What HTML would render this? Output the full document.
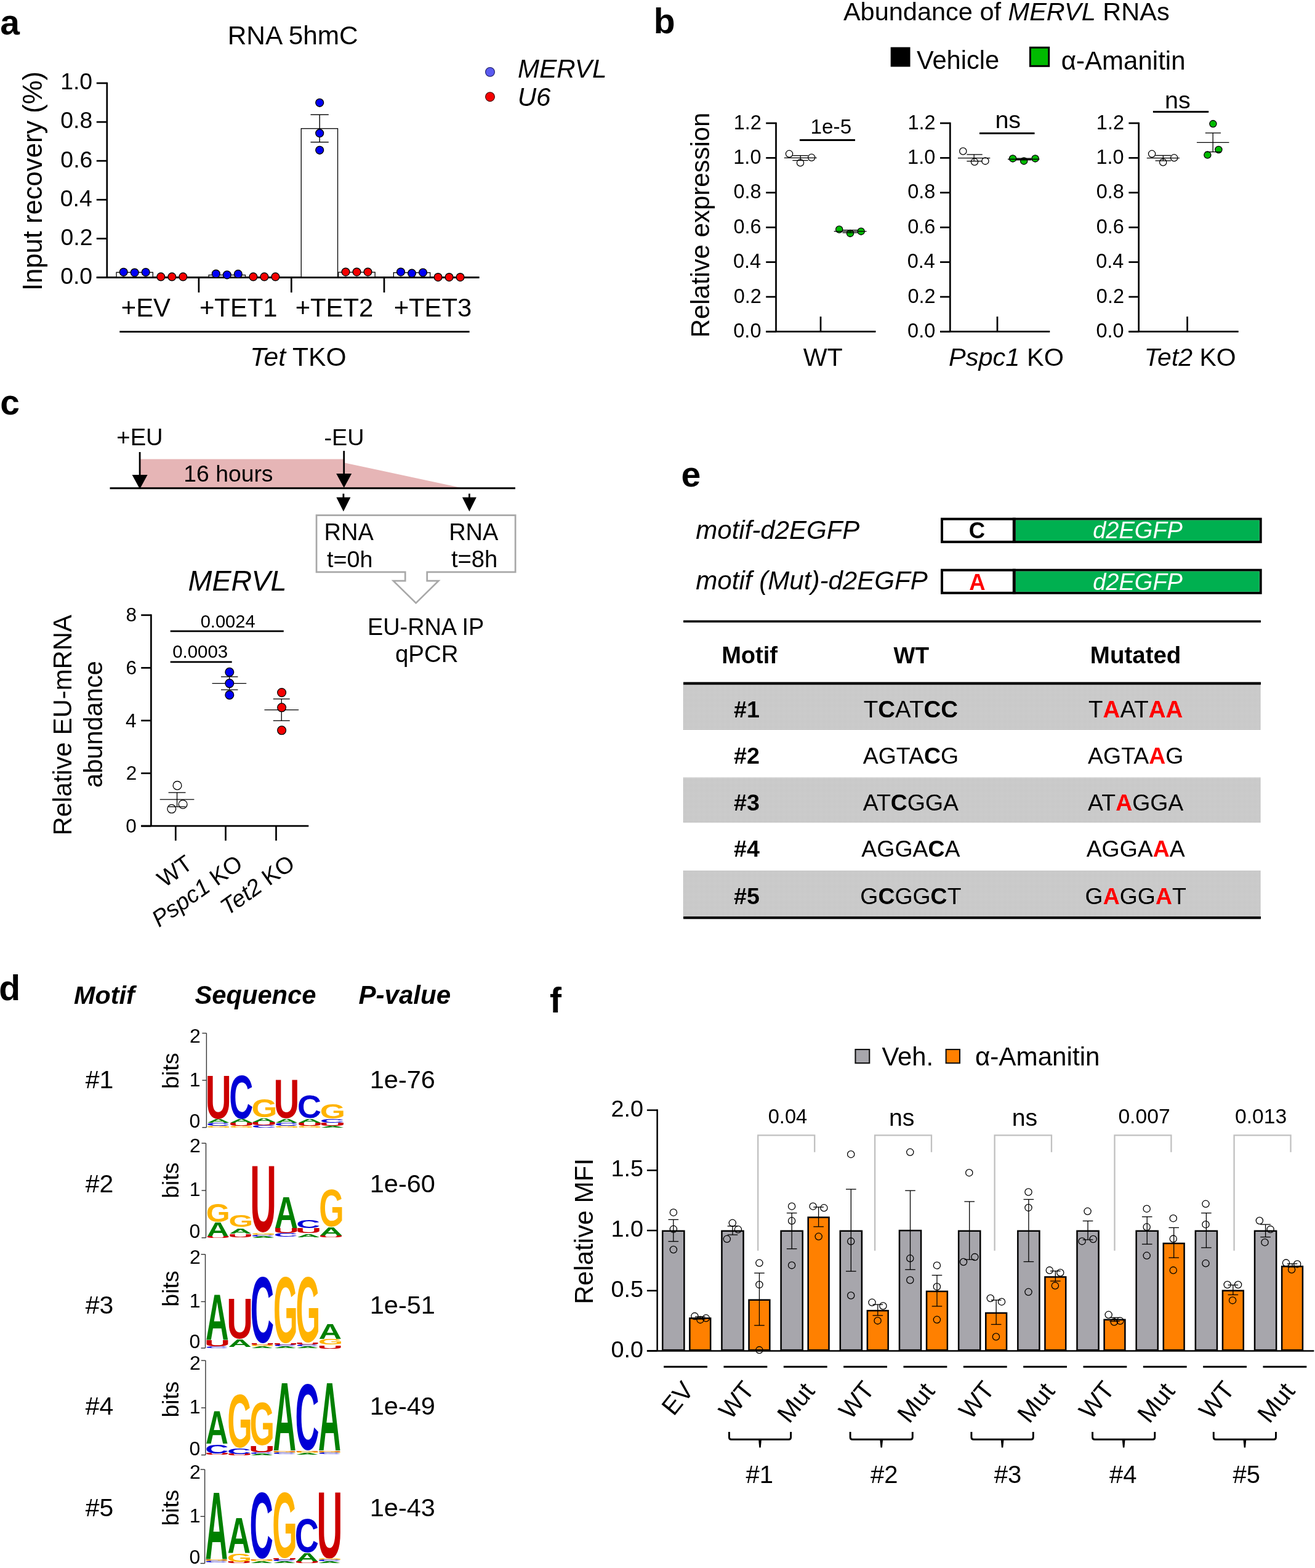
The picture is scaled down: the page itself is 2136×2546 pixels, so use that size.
<!DOCTYPE html>
<html><head><meta charset="utf-8"><title>Figure</title>
<style>html,body{margin:0;padding:0;background:#fff;}svg{display:block;}
text{font-family:"Liberation Sans",Arial,Helvetica,sans-serif;}</style></head>
<body><svg width="2136" height="2546" viewBox="0 0 2136 2546">
<defs><pattern id="dots" x="0" y="0" width="2" height="2" patternUnits="userSpaceOnUse"><rect width="2" height="2" fill="#eaeaea"/><rect width="1" height="1" fill="#6a6a6a"/></pattern></defs>
<rect width="2136" height="2546" fill="#fff"/>
<text x="0.33" y="55.8" font-size="57" font-weight="bold">a</text>
<text x="369.72" y="72" font-size="42.4">RNA 5hmC</text>
<line x1="156.8" y1="450.5" x2="173.8" y2="450.5" stroke="#000" stroke-width="2.7"/>
<text x="98.17" y="460.8" font-size="37.4">0.0</text>
<line x1="156.8" y1="387.4" x2="173.8" y2="387.4" stroke="#000" stroke-width="2.7"/>
<text x="98.59" y="397.7" font-size="37.4">0.2</text>
<line x1="156.8" y1="324.3" x2="173.8" y2="324.3" stroke="#000" stroke-width="2.7"/>
<text x="97.8" y="334.6" font-size="37.4">0.4</text>
<line x1="156.8" y1="261.2" x2="173.8" y2="261.2" stroke="#000" stroke-width="2.7"/>
<text x="98.35" y="271.5" font-size="37.4">0.6</text>
<line x1="156.8" y1="198.1" x2="173.8" y2="198.1" stroke="#000" stroke-width="2.7"/>
<text x="98.33" y="208.4" font-size="37.4">0.8</text>
<line x1="156.8" y1="135" x2="173.8" y2="135" stroke="#000" stroke-width="2.7"/>
<text x="98.17" y="145.3" font-size="37.4">1.0</text>
<line x1="173.8" y1="133.65" x2="173.8" y2="451.85" stroke="#000" stroke-width="2.7"/>
<line x1="156.8" y1="450.5" x2="778.6" y2="450.5" stroke="#000" stroke-width="2.8"/>
<line x1="322.9" y1="450.5" x2="322.9" y2="474.9" stroke="#000" stroke-width="2.7"/>
<line x1="473.3" y1="450.5" x2="473.3" y2="474.9" stroke="#000" stroke-width="2.7"/>
<line x1="624" y1="450.5" x2="624" y2="474.9" stroke="#000" stroke-width="2.7"/>
<rect x="189.05" y="442.25" width="59.3" height="7.6" fill="#fff" stroke="#000" stroke-width="1.3"/>
<rect x="339.15" y="446.55" width="59.3" height="3.3" fill="#fff" stroke="#000" stroke-width="1.3"/>
<rect x="489.25" y="208.75" width="59.3" height="241.1" fill="#fff" stroke="#000" stroke-width="1.3"/>
<rect x="549.85" y="442.05" width="59.3" height="7.8" fill="#fff" stroke="#000" stroke-width="1.3"/>
<rect x="639.35" y="442.65" width="59.3" height="7.2" fill="#fff" stroke="#000" stroke-width="1.3"/>
<line x1="519.2" y1="186.2" x2="519.2" y2="230.8" stroke="#000" stroke-width="1.4"/>
<line x1="504.5" y1="186.2" x2="533.8" y2="186.2" stroke="#000" stroke-width="1.4"/>
<line x1="504.5" y1="230.8" x2="533.8" y2="230.8" stroke="#000" stroke-width="1.4"/>
<circle cx="200.7" cy="441.8" r="6.4" fill="#0000f5" stroke="#000" stroke-width="1.4"/>
<circle cx="218.7" cy="442.6" r="6.4" fill="#0000f5" stroke="#000" stroke-width="1.4"/>
<circle cx="236.7" cy="442" r="6.4" fill="#0000f5" stroke="#000" stroke-width="1.4"/>
<circle cx="261.3" cy="449.4" r="6.4" fill="#f50000" stroke="#000" stroke-width="1.4"/>
<circle cx="279.3" cy="449.4" r="6.4" fill="#f50000" stroke="#000" stroke-width="1.4"/>
<circle cx="297.3" cy="449.4" r="6.4" fill="#f50000" stroke="#000" stroke-width="1.4"/>
<circle cx="350.8" cy="444.6" r="6.4" fill="#0000f5" stroke="#000" stroke-width="1.4"/>
<circle cx="368.8" cy="446.3" r="6.4" fill="#0000f5" stroke="#000" stroke-width="1.4"/>
<circle cx="386.8" cy="444.9" r="6.4" fill="#0000f5" stroke="#000" stroke-width="1.4"/>
<circle cx="411.4" cy="449.4" r="6.4" fill="#f50000" stroke="#000" stroke-width="1.4"/>
<circle cx="429.4" cy="449.4" r="6.4" fill="#f50000" stroke="#000" stroke-width="1.4"/>
<circle cx="447.4" cy="449.4" r="6.4" fill="#f50000" stroke="#000" stroke-width="1.4"/>
<circle cx="519.2" cy="166.8" r="6.4" fill="#0000f5" stroke="#000" stroke-width="1.4"/>
<circle cx="519.2" cy="216.2" r="6.4" fill="#0000f5" stroke="#000" stroke-width="1.4"/>
<circle cx="519.2" cy="243.8" r="6.4" fill="#0000f5" stroke="#000" stroke-width="1.4"/>
<circle cx="561.5" cy="441.6" r="6.4" fill="#f50000" stroke="#000" stroke-width="1.4"/>
<circle cx="579.5" cy="441.6" r="6.4" fill="#f50000" stroke="#000" stroke-width="1.4"/>
<circle cx="597.5" cy="441.6" r="6.4" fill="#f50000" stroke="#000" stroke-width="1.4"/>
<circle cx="651" cy="441.6" r="6.4" fill="#0000f5" stroke="#000" stroke-width="1.4"/>
<circle cx="669" cy="443.7" r="6.4" fill="#0000f5" stroke="#000" stroke-width="1.4"/>
<circle cx="687" cy="442.5" r="6.4" fill="#0000f5" stroke="#000" stroke-width="1.4"/>
<circle cx="711.6" cy="450.1" r="6.4" fill="#f50000" stroke="#000" stroke-width="1.4"/>
<circle cx="729.6" cy="450.1" r="6.4" fill="#f50000" stroke="#000" stroke-width="1.4"/>
<circle cx="747.6" cy="450.1" r="6.4" fill="#f50000" stroke="#000" stroke-width="1.4"/>
<text x="196.76" y="513.5" font-size="41.8">+EV</text>
<text x="323.96" y="513.5" font-size="41.8">+TET1</text>
<text x="479.66" y="513.5" font-size="41.8">+TET2</text>
<text x="639.66" y="513.5" font-size="41.8">+TET3</text>
<line x1="194.3" y1="538.7" x2="762.6" y2="538.7" stroke="#000" stroke-width="2.8"/>
<text x="406.37" y="594" font-size="42.6"><tspan font-style="italic">Tet</tspan><tspan> TKO</tspan></text>
<text x="67.8" y="472.02" font-size="43.6" transform="rotate(-90 67.8 472.02)">Input recovery (%)</text>
<circle cx="796" cy="116.9" r="7.4" fill="#5a5af0" stroke="#1a1a60" stroke-width="1.1"/>
<circle cx="796" cy="157.2" r="7.4" fill="#f50000" stroke="#400000" stroke-width="1.1"/>
<text x="841.1" y="126" font-size="42.1" font-style="italic">MERVL</text>
<text x="840.65" y="172" font-size="42.1" font-style="italic">U6</text>
<text x="1061.84" y="54" font-size="57" font-weight="bold">b</text>
<text x="1369.92" y="33" font-size="41.5"><tspan>Abundance of </tspan><tspan font-style="italic">MERVL</tspan><tspan> RNAs</tspan></text>
<rect x="1446.7" y="76.6" width="31.8" height="31.8" fill="#000"/>
<text x="1489.02" y="111.7" font-size="41.6">Vehicle</text>
<rect x="1673.4" y="77.2" width="30.3" height="30.1" fill="#00bb00" stroke="#000" stroke-width="3"/>
<text x="1723.84" y="112.6" font-size="42">α-Amanitin</text>
<line x1="1244.2" y1="538.4" x2="1260.5" y2="538.4" stroke="#000" stroke-width="2.7"/>
<text x="1191.29" y="548" font-size="32.5">0.0</text>
<line x1="1244.2" y1="482" x2="1260.5" y2="482" stroke="#000" stroke-width="2.7"/>
<text x="1191.66" y="491.6" font-size="32.5">0.2</text>
<line x1="1244.2" y1="425.6" x2="1260.5" y2="425.6" stroke="#000" stroke-width="2.7"/>
<text x="1190.97" y="435.2" font-size="32.5">0.4</text>
<line x1="1244.2" y1="369.2" x2="1260.5" y2="369.2" stroke="#000" stroke-width="2.7"/>
<text x="1191.45" y="378.8" font-size="32.5">0.6</text>
<line x1="1244.2" y1="312.8" x2="1260.5" y2="312.8" stroke="#000" stroke-width="2.7"/>
<text x="1191.43" y="322.4" font-size="32.5">0.8</text>
<line x1="1244.2" y1="256.4" x2="1260.5" y2="256.4" stroke="#000" stroke-width="2.7"/>
<text x="1191.29" y="266" font-size="32.5">1.0</text>
<line x1="1244.2" y1="200" x2="1260.5" y2="200" stroke="#000" stroke-width="2.7"/>
<text x="1191.66" y="209.6" font-size="32.5">1.2</text>
<line x1="1260.5" y1="198.65" x2="1260.5" y2="538.4" stroke="#000" stroke-width="2.7"/>
<line x1="1244.2" y1="538.4" x2="1422.5" y2="538.4" stroke="#000" stroke-width="2.7"/>
<line x1="1333" y1="538.4" x2="1333" y2="514" stroke="#000" stroke-width="2.7"/>
<line x1="1527" y1="538.4" x2="1543.3" y2="538.4" stroke="#000" stroke-width="2.7"/>
<text x="1474.09" y="548" font-size="32.5">0.0</text>
<line x1="1527" y1="482" x2="1543.3" y2="482" stroke="#000" stroke-width="2.7"/>
<text x="1474.46" y="491.6" font-size="32.5">0.2</text>
<line x1="1527" y1="425.6" x2="1543.3" y2="425.6" stroke="#000" stroke-width="2.7"/>
<text x="1473.77" y="435.2" font-size="32.5">0.4</text>
<line x1="1527" y1="369.2" x2="1543.3" y2="369.2" stroke="#000" stroke-width="2.7"/>
<text x="1474.25" y="378.8" font-size="32.5">0.6</text>
<line x1="1527" y1="312.8" x2="1543.3" y2="312.8" stroke="#000" stroke-width="2.7"/>
<text x="1474.23" y="322.4" font-size="32.5">0.8</text>
<line x1="1527" y1="256.4" x2="1543.3" y2="256.4" stroke="#000" stroke-width="2.7"/>
<text x="1474.09" y="266" font-size="32.5">1.0</text>
<line x1="1527" y1="200" x2="1543.3" y2="200" stroke="#000" stroke-width="2.7"/>
<text x="1474.46" y="209.6" font-size="32.5">1.2</text>
<line x1="1543.3" y1="198.65" x2="1543.3" y2="538.4" stroke="#000" stroke-width="2.7"/>
<line x1="1527" y1="538.4" x2="1705.3" y2="538.4" stroke="#000" stroke-width="2.7"/>
<line x1="1620" y1="538.4" x2="1620" y2="514" stroke="#000" stroke-width="2.7"/>
<line x1="1833.4" y1="538.4" x2="1849.7" y2="538.4" stroke="#000" stroke-width="2.7"/>
<text x="1780.49" y="548" font-size="32.5">0.0</text>
<line x1="1833.4" y1="482" x2="1849.7" y2="482" stroke="#000" stroke-width="2.7"/>
<text x="1780.86" y="491.6" font-size="32.5">0.2</text>
<line x1="1833.4" y1="425.6" x2="1849.7" y2="425.6" stroke="#000" stroke-width="2.7"/>
<text x="1780.17" y="435.2" font-size="32.5">0.4</text>
<line x1="1833.4" y1="369.2" x2="1849.7" y2="369.2" stroke="#000" stroke-width="2.7"/>
<text x="1780.65" y="378.8" font-size="32.5">0.6</text>
<line x1="1833.4" y1="312.8" x2="1849.7" y2="312.8" stroke="#000" stroke-width="2.7"/>
<text x="1780.63" y="322.4" font-size="32.5">0.8</text>
<line x1="1833.4" y1="256.4" x2="1849.7" y2="256.4" stroke="#000" stroke-width="2.7"/>
<text x="1780.49" y="266" font-size="32.5">1.0</text>
<line x1="1833.4" y1="200" x2="1849.7" y2="200" stroke="#000" stroke-width="2.7"/>
<text x="1780.86" y="209.6" font-size="32.5">1.2</text>
<line x1="1849.7" y1="198.65" x2="1849.7" y2="538.4" stroke="#000" stroke-width="2.7"/>
<line x1="1833.4" y1="538.4" x2="2011.7" y2="538.4" stroke="#000" stroke-width="2.7"/>
<line x1="1928.6" y1="538.4" x2="1928.6" y2="514" stroke="#000" stroke-width="2.7"/>
<text x="1304.72" y="593.5" font-size="41.2">WT</text>
<text x="1541.12" y="593.5" font-size="41.5"><tspan font-style="italic">Pspc1</tspan><tspan> KO</tspan></text>
<text x="1858.82" y="593.5" font-size="41"><tspan font-style="italic">Tet2</tspan><tspan> KO</tspan></text>
<text x="1152.3" y="548.24" font-size="41.9" transform="rotate(-90 1152.3 548.24)">Relative expression</text>
<line x1="1298.9" y1="227.4" x2="1389" y2="227.4" stroke="#000" stroke-width="3"/>
<text x="1316.56" y="217.4" font-size="33.3">1e-5</text>
<line x1="1591" y1="216.6" x2="1680.5" y2="216.6" stroke="#000" stroke-width="3"/>
<text x="1616.38" y="207.6" font-size="39.5">ns</text>
<line x1="1872.9" y1="181.6" x2="1963.2" y2="181.6" stroke="#000" stroke-width="3"/>
<text x="1891.98" y="176.2" font-size="39.5">ns</text>
<circle cx="1282" cy="249.8" r="5.6" fill="none" stroke="#000" stroke-width="1.3"/>
<circle cx="1300" cy="264.3" r="5.6" fill="none" stroke="#000" stroke-width="1.3"/>
<circle cx="1318.2" cy="255.8" r="5.6" fill="none" stroke="#000" stroke-width="1.3"/>
<line x1="1273.8" y1="256.4" x2="1326.6" y2="256.4" stroke="#000" stroke-width="1.3"/>
<line x1="1300.2" y1="252.6" x2="1300.2" y2="260.5" stroke="#000" stroke-width="1.3"/>
<line x1="1287.3" y1="252.6" x2="1312.6" y2="252.6" stroke="#000" stroke-width="1.3"/>
<line x1="1287.3" y1="260.5" x2="1312.6" y2="260.5" stroke="#000" stroke-width="1.3"/>
<circle cx="1363.2" cy="372.5" r="5.6" fill="#00bb00" stroke="#000" stroke-width="1.3"/>
<circle cx="1381" cy="378.9" r="5.6" fill="#00bb00" stroke="#000" stroke-width="1.3"/>
<circle cx="1398.7" cy="375.7" r="5.6" fill="#00bb00" stroke="#000" stroke-width="1.3"/>
<line x1="1354.7" y1="375.7" x2="1407.5" y2="375.7" stroke="#000" stroke-width="1.3"/>
<line x1="1381.1" y1="373.6" x2="1381.1" y2="377.8" stroke="#000" stroke-width="1.3"/>
<line x1="1368.5" y1="373.6" x2="1393.5" y2="373.6" stroke="#000" stroke-width="1.3"/>
<line x1="1368.5" y1="377.8" x2="1393.5" y2="377.8" stroke="#000" stroke-width="1.3"/>
<circle cx="1564.3" cy="245.5" r="5.6" fill="none" stroke="#000" stroke-width="1.3"/>
<circle cx="1583" cy="262.8" r="5.6" fill="none" stroke="#000" stroke-width="1.3"/>
<circle cx="1600.4" cy="261.4" r="5.6" fill="none" stroke="#000" stroke-width="1.3"/>
<line x1="1556" y1="256.7" x2="1608.3" y2="256.7" stroke="#000" stroke-width="1.3"/>
<line x1="1582.15" y1="250.9" x2="1582.15" y2="261.7" stroke="#000" stroke-width="1.3"/>
<line x1="1570.4" y1="250.9" x2="1595.7" y2="250.9" stroke="#000" stroke-width="1.3"/>
<line x1="1570.4" y1="261.7" x2="1595.7" y2="261.7" stroke="#000" stroke-width="1.3"/>
<circle cx="1645.1" cy="257.4" r="5.6" fill="#00bb00" stroke="#000" stroke-width="1.3"/>
<circle cx="1663.2" cy="261.4" r="5.6" fill="#00bb00" stroke="#000" stroke-width="1.3"/>
<circle cx="1681.6" cy="257.4" r="5.6" fill="#00bb00" stroke="#000" stroke-width="1.3"/>
<line x1="1637" y1="258.5" x2="1688.4" y2="258.5" stroke="#000" stroke-width="1.3"/>
<line x1="1662.7" y1="257.2" x2="1662.7" y2="259.8" stroke="#000" stroke-width="1.3"/>
<line x1="1650" y1="257.2" x2="1675.4" y2="257.2" stroke="#000" stroke-width="1.3"/>
<line x1="1650" y1="259.8" x2="1675.4" y2="259.8" stroke="#000" stroke-width="1.3"/>
<circle cx="1871.1" cy="249.8" r="5.6" fill="none" stroke="#000" stroke-width="1.3"/>
<circle cx="1889.2" cy="263.5" r="5.6" fill="none" stroke="#000" stroke-width="1.3"/>
<circle cx="1907.2" cy="256.3" r="5.6" fill="none" stroke="#000" stroke-width="1.3"/>
<line x1="1862.8" y1="256.7" x2="1915.9" y2="256.7" stroke="#000" stroke-width="1.3"/>
<line x1="1889.35" y1="252.4" x2="1889.35" y2="261" stroke="#000" stroke-width="1.3"/>
<line x1="1876.6" y1="252.4" x2="1902" y2="252.4" stroke="#000" stroke-width="1.3"/>
<line x1="1876.6" y1="261" x2="1902" y2="261" stroke="#000" stroke-width="1.3"/>
<circle cx="1970.4" cy="201.1" r="5.6" fill="#00bb00" stroke="#000" stroke-width="1.3"/>
<circle cx="1961.4" cy="251.6" r="5.6" fill="#00bb00" stroke="#000" stroke-width="1.3"/>
<circle cx="1979.4" cy="243" r="5.6" fill="#00bb00" stroke="#000" stroke-width="1.3"/>
<line x1="1944" y1="231.4" x2="1996.4" y2="231.4" stroke="#000" stroke-width="1.3"/>
<line x1="1970.2" y1="215.9" x2="1970.2" y2="246.6" stroke="#000" stroke-width="1.3"/>
<line x1="1957.8" y1="215.9" x2="1983" y2="215.9" stroke="#000" stroke-width="1.3"/>
<line x1="1957.8" y1="246.6" x2="1983" y2="246.6" stroke="#000" stroke-width="1.3"/>
<text x="0.37" y="673" font-size="57" font-weight="bold">c</text>
<polygon points="227.9,745.6 559.8,745.6 559.8,751.4 748.9,792 227.9,792" fill="#e6b5b6"/>
<line x1="178.5" y1="792.7" x2="837" y2="792.7" stroke="#000" stroke-width="3"/>
<line x1="227.1" y1="734" x2="227.1" y2="772.9" stroke="#000" stroke-width="2.8"/>
<polygon points="214.6,770.9 239.6,770.9 227.1,793.9" fill="#000"/>
<line x1="558.7" y1="732.1" x2="558.7" y2="770.9" stroke="#000" stroke-width="2.8"/>
<polygon points="546.2,768.9 571.2,768.9 558.7,791.9" fill="#000"/>
<line x1="557.9" y1="801.6" x2="557.9" y2="809.5" stroke="#000" stroke-width="2.8"/>
<polygon points="546.4,807.5 569.4,807.5 557.9,830.5" fill="#000"/>
<line x1="762.4" y1="801.6" x2="762.4" y2="809.5" stroke="#000" stroke-width="2.8"/>
<polygon points="750.9,807.5 773.9,807.5 762.4,830.5" fill="#000"/>
<text x="189.33" y="723.2" font-size="38.2">+EU</text>
<text x="526.52" y="723.2" font-size="37.8">-EU</text>
<text x="298.36" y="782.3" font-size="37.3">16 hours</text>
<polygon points="658.2,928.9 514.05,928.9 514.05,836.55 837.15,836.55 837.15,928.9 693.7,928.9 693.7,943.2 712.3,943.2 675.6,979.1 638.9,943.2 658.2,943.2" fill="none" stroke="#a8a8a8" stroke-width="2.7" stroke-linejoin="miter"/>
<text x="526.58" y="876.8" font-size="38">RNA</text>
<text x="531.03" y="921.2" font-size="37.7">t=0h</text>
<text x="729.18" y="876.8" font-size="38">RNA</text>
<text x="732.92" y="921.2" font-size="38.2">t=8h</text>
<text x="596.89" y="1031.1" font-size="37.9">EU-RNA IP</text>
<text x="641.88" y="1074.5" font-size="38.5">qPCR</text>
<text x="305.56" y="958.7" font-size="46.7" font-style="italic">MERVL</text>
<line x1="229.2" y1="1341.2" x2="245.4" y2="1341.2" stroke="#000" stroke-width="2.7"/>
<text x="204.31" y="1351.7" font-size="31.5">0</text>
<line x1="229.2" y1="1255.6" x2="245.4" y2="1255.6" stroke="#000" stroke-width="2.7"/>
<text x="204.67" y="1266.1" font-size="31.5">2</text>
<line x1="229.2" y1="1170" x2="245.4" y2="1170" stroke="#000" stroke-width="2.7"/>
<text x="204" y="1180.5" font-size="31.5">4</text>
<line x1="229.2" y1="1084.4" x2="245.4" y2="1084.4" stroke="#000" stroke-width="2.7"/>
<text x="204.47" y="1094.9" font-size="31.5">6</text>
<line x1="229.2" y1="998.8" x2="245.4" y2="998.8" stroke="#000" stroke-width="2.7"/>
<text x="204.45" y="1009.3" font-size="31.5">8</text>
<line x1="245.4" y1="997.45" x2="245.4" y2="1341.2" stroke="#000" stroke-width="2.7"/>
<line x1="229.2" y1="1341.2" x2="501.3" y2="1341.2" stroke="#000" stroke-width="2.7"/>
<line x1="285.3" y1="1341.2" x2="285.3" y2="1364.9" stroke="#000" stroke-width="2.7"/>
<line x1="366.5" y1="1341.2" x2="366.5" y2="1364.9" stroke="#000" stroke-width="2.7"/>
<line x1="448.5" y1="1341.2" x2="448.5" y2="1364.9" stroke="#000" stroke-width="2.7"/>
<line x1="276.7" y1="1024.8" x2="460.8" y2="1024.8" stroke="#000" stroke-width="2.8"/>
<text x="325.66" y="1018.7" font-size="29.1">0.0024</text>
<line x1="276.7" y1="1074.9" x2="376.7" y2="1074.9" stroke="#000" stroke-width="2.8"/>
<text x="280.25" y="1068.4" font-size="29.4">0.0003</text>
<line x1="259.7" y1="1298.1" x2="315.4" y2="1298.1" stroke="#000" stroke-width="1.3"/>
<line x1="287.55" y1="1286.9" x2="287.55" y2="1309.9" stroke="#000" stroke-width="1.3"/>
<line x1="273.6" y1="1286.9" x2="301.5" y2="1286.9" stroke="#000" stroke-width="1.3"/>
<line x1="273.6" y1="1309.9" x2="301.5" y2="1309.9" stroke="#000" stroke-width="1.3"/>
<circle cx="288" cy="1275.4" r="6.9" fill="none" stroke="#000" stroke-width="1.3"/>
<circle cx="278.8" cy="1313.3" r="6.9" fill="none" stroke="#000" stroke-width="1.3"/>
<circle cx="297.1" cy="1306" r="6.9" fill="none" stroke="#000" stroke-width="1.3"/>
<line x1="344.6" y1="1109.6" x2="400.2" y2="1109.6" stroke="#000" stroke-width="1.3"/>
<line x1="372.7" y1="1098.9" x2="372.7" y2="1120" stroke="#000" stroke-width="1.3"/>
<line x1="359" y1="1098.9" x2="386.4" y2="1098.9" stroke="#000" stroke-width="1.3"/>
<line x1="359" y1="1120" x2="386.4" y2="1120" stroke="#000" stroke-width="1.3"/>
<circle cx="372.8" cy="1091.3" r="6.9" fill="#0000f5" stroke="#000" stroke-width="1.3"/>
<circle cx="372.8" cy="1109.6" r="6.9" fill="#0000f5" stroke="#000" stroke-width="1.3"/>
<circle cx="372.8" cy="1128.4" r="6.9" fill="#0000f5" stroke="#000" stroke-width="1.3"/>
<line x1="429.5" y1="1152.7" x2="485.1" y2="1152.7" stroke="#000" stroke-width="1.3"/>
<line x1="457.25" y1="1134.9" x2="457.25" y2="1170.2" stroke="#000" stroke-width="1.3"/>
<line x1="443.8" y1="1134.9" x2="470.7" y2="1134.9" stroke="#000" stroke-width="1.3"/>
<line x1="443.8" y1="1170.2" x2="470.7" y2="1170.2" stroke="#000" stroke-width="1.3"/>
<circle cx="457.6" cy="1124.5" r="6.9" fill="#f50000" stroke="#000" stroke-width="1.3"/>
<circle cx="457.6" cy="1148.8" r="6.9" fill="#f50000" stroke="#000" stroke-width="1.3"/>
<circle cx="457.6" cy="1185.8" r="6.9" fill="#f50000" stroke="#000" stroke-width="1.3"/>
<text x="116" y="1356.44" font-size="41.9" transform="rotate(-90 116 1356.44)">Relative EU-mRNA</text>
<text x="165.8" y="1278.97" font-size="41.6" transform="rotate(-90 165.8 1278.97)">abundance</text>
<text x="315.2" y="1407.8" font-size="37.8" text-anchor="end" transform="rotate(-35.5 315.2 1407.8)"><tspan>WT</tspan></text>
<text x="396.8" y="1407.7" font-size="37.8" text-anchor="end" transform="rotate(-35.5 396.8 1407.7)"><tspan font-style="italic">Pspc1</tspan><tspan> KO</tspan></text>
<text x="481.5" y="1407.6" font-size="37.8" text-anchor="end" transform="rotate(-35.5 481.5 1407.6)"><tspan font-style="italic">Tet2</tspan><tspan> KO</tspan></text>
<text x="-1.84" y="1623.5" font-size="57" font-weight="bold">d</text>
<text x="120.07" y="1629.5" font-size="41.3" font-style="italic" font-weight="bold">Motif</text>
<text x="316.49" y="1629.5" font-size="41.7" font-style="italic" font-weight="bold">Sequence</text>
<text x="582.46" y="1629.5" font-size="42.1" font-style="italic" font-weight="bold">P-value</text>
<text font-size="100" font-weight="bold" fill="#cc0000" transform="matrix(0.58 0 0 0.9946 333.72 1815.63)">U</text>
<text font-size="100" font-weight="bold" fill="#008000" transform="matrix(0.52 0 0 0.0916 335.91 1822.9)">A</text>
<text font-size="100" font-weight="bold" fill="#0000d6" transform="matrix(0.53 0 0 0.0720 335.02 1827.93)">C</text>
<text font-size="100" font-weight="bold" fill="#ffb300" transform="matrix(0.52 0 0 0.0325 335.08 1831.17)">G</text>
<text font-size="100" font-weight="bold" fill="#0000d6" transform="matrix(0.54 0 0 0.9986 372.18 1815.62)">C</text>
<text font-size="100" font-weight="bold" fill="#008000" transform="matrix(0.53 0 0 0.0916 373.09 1822.9)">A</text>
<text font-size="100" font-weight="bold" fill="#cc0000" transform="matrix(0.59 0 0 0.0731 370.86 1827.93)">U</text>
<text font-size="100" font-weight="bold" fill="#ffb300" transform="matrix(0.52 0 0 0.0325 372.25 1831.17)">G</text>
<text font-size="100" font-weight="bold" fill="#ffb300" transform="matrix(0.54 0 0 0.4294 408.49 1813.98)">G</text>
<text font-size="100" font-weight="bold" fill="#008000" transform="matrix(0.54 0 0 0.0916 409.35 1821.6)">A</text>
<text font-size="100" font-weight="bold" fill="#cc0000" transform="matrix(0.6 0 0 0.0717 407.07 1826.93)">U</text>
<text font-size="100" font-weight="bold" fill="#0000d6" transform="matrix(0.56 0 0 0.0494 408.42 1830.95)">C</text>
<text font-size="100" font-weight="bold" fill="#cc0000" transform="matrix(0.58 0 0 0.8828 444.5 1815.14)">U</text>
<text font-size="100" font-weight="bold" fill="#008000" transform="matrix(0.52 0 0 0.0858 446.7 1822.9)">A</text>
<text font-size="100" font-weight="bold" fill="#0000d6" transform="matrix(0.54 0 0 0.0720 445.8 1827.93)">C</text>
<text font-size="100" font-weight="bold" fill="#ffb300" transform="matrix(0.52 0 0 0.0424 445.87 1830.96)">G</text>
<text font-size="100" font-weight="bold" fill="#0000d6" transform="matrix(0.54 0 0 0.5226 482.98 1815.49)">C</text>
<text font-size="100" font-weight="bold" fill="#008000" transform="matrix(0.53 0 0 0.0858 483.89 1822.9)">A</text>
<text font-size="100" font-weight="bold" fill="#cc0000" transform="matrix(0.59 0 0 0.0731 481.66 1827.93)">U</text>
<text font-size="100" font-weight="bold" fill="#ffb300" transform="matrix(0.52 0 0 0.0424 483.05 1830.96)">G</text>
<text font-size="100" font-weight="bold" fill="#ffb300" transform="matrix(0.53 0 0 0.3263 519.72 1816.28)">G</text>
<text font-size="100" font-weight="bold" fill="#0000d6" transform="matrix(0.55 0 0 0.0833 519.65 1822.82)">C</text>
<text font-size="100" font-weight="bold" fill="#cc0000" transform="matrix(0.6 0 0 0.0731 518.31 1827.93)">U</text>
<text font-size="100" font-weight="bold" fill="#008000" transform="matrix(0.54 0 0 0.0436 520.57 1831)">A</text>
<line x1="335.4" y1="1677.6" x2="335.4" y2="1830.7" stroke="#333" stroke-width="1.4"/>
<line x1="328.4" y1="1677.6" x2="335.4" y2="1677.6" stroke="#333" stroke-width="1.4"/>
<line x1="328.4" y1="1754.1" x2="335.4" y2="1754.1" stroke="#333" stroke-width="1.4"/>
<line x1="328.4" y1="1830.7" x2="335.4" y2="1830.7" stroke="#333" stroke-width="1.4"/>
<text x="307.91" y="1692.7" font-size="32">2</text>
<text x="307.87" y="1763.5" font-size="32">1</text>
<text x="307.55" y="1831.2" font-size="32">0</text>
<text x="289.9" y="1767.92" font-size="37.6" transform="rotate(-90 289.9 1767.92)">bits</text>
<text x="138.72" y="1767" font-size="41">#1</text>
<text x="600.74" y="1767" font-size="41.5">1e-76</text>
<text font-size="100" font-weight="bold" fill="#ffb300" transform="matrix(0.5 0 0 0.4280 334.73 1983.98)">G</text>
<text font-size="100" font-weight="bold" fill="#008000" transform="matrix(0.51 0 0 0.3299 335.54 2008)">A</text>
<text font-size="100" font-weight="bold" fill="#cc0000" transform="matrix(0.57 0 0 0.0287 333.4 2009.97)">U</text>
<text font-size="100" font-weight="bold" fill="#ffb300" transform="matrix(0.51 0 0 0.2825 371.4 1992.32)">G</text>
<text font-size="100" font-weight="bold" fill="#008000" transform="matrix(0.51 0 0 0.1177 372.22 2002.5)">A</text>
<text font-size="100" font-weight="bold" fill="#cc0000" transform="matrix(0.57 0 0 0.0788 370.05 2008.92)">U</text>
<text font-size="100" font-weight="bold" fill="#cc0000" transform="matrix(0.59 0 0 1.5349 406.26 2000.1)">U</text>
<text font-size="100" font-weight="bold" fill="#ffb300" transform="matrix(0.52 0 0 0.0424 407.65 2004.96)">G</text>
<text font-size="100" font-weight="bold" fill="#0000d6" transform="matrix(0.54 0 0 0.0353 407.58 2007.97)">C</text>
<text font-size="100" font-weight="bold" fill="#008000" transform="matrix(0.53 0 0 0.0291 408.49 2010)">A</text>
<text font-size="100" font-weight="bold" fill="#008000" transform="matrix(0.53 0 0 0.7180 445.68 1994.4)">A</text>
<text font-size="100" font-weight="bold" fill="#cc0000" transform="matrix(0.59 0 0 0.1032 443.45 2001.5)">U</text>
<text font-size="100" font-weight="bold" fill="#0000d6" transform="matrix(0.54 0 0 0.0890 444.77 2008.41)">C</text>
<text font-size="100" font-weight="bold" fill="#0000d6" transform="matrix(0.54 0 0 0.1864 481.18 1993.82)">C</text>
<text font-size="100" font-weight="bold" fill="#cc0000" transform="matrix(0.59 0 0 0.1161 479.86 2002.39)">U</text>
<text font-size="100" font-weight="bold" fill="#008000" transform="matrix(0.53 0 0 0.0799 482.09 2009)">A</text>
<text font-size="100" font-weight="bold" fill="#ffb300" transform="matrix(0.52 0 0 0.8602 518.18 1990.86)">G</text>
<text font-size="100" font-weight="bold" fill="#008000" transform="matrix(0.52 0 0 0.1846 519.01 2006.2)">A</text>
<text font-size="100" font-weight="bold" fill="#cc0000" transform="matrix(0.58 0 0 0.0430 516.82 2009.46)">U</text>
<line x1="334.5" y1="1856.3" x2="334.5" y2="2009.8" stroke="#333" stroke-width="1.4"/>
<line x1="327.5" y1="1856.3" x2="334.5" y2="1856.3" stroke="#333" stroke-width="1.4"/>
<line x1="327.5" y1="1933" x2="334.5" y2="1933" stroke="#333" stroke-width="1.4"/>
<line x1="327.5" y1="2009.8" x2="334.5" y2="2009.8" stroke="#333" stroke-width="1.4"/>
<text x="307.91" y="1871.4" font-size="32">2</text>
<text x="307.87" y="1942.4" font-size="32">1</text>
<text x="307.55" y="2010.3" font-size="32">0</text>
<text x="289.9" y="1945.82" font-size="37.6" transform="rotate(-90 289.9 1945.82)">bits</text>
<text x="138.72" y="1936" font-size="41">#2</text>
<text x="600.74" y="1936" font-size="41.5">1e-60</text>
<text font-size="100" font-weight="bold" fill="#008000" transform="matrix(0.52 0 0 1.0640 334.11 2175.8)">A</text>
<text font-size="100" font-weight="bold" fill="#cc0000" transform="matrix(0.58 0 0 0.1433 331.92 2186.06)">U</text>
<text font-size="100" font-weight="bold" fill="#0000d6" transform="matrix(0.53 0 0 0.0339 333.22 2188.87)">C</text>
<text font-size="100" font-weight="bold" fill="#cc0000" transform="matrix(0.59 0 0 0.9187 368.16 2172.6)">U</text>
<text font-size="100" font-weight="bold" fill="#008000" transform="matrix(0.53 0 0 0.1715 370.39 2187.1)">A</text>
<text font-size="100" font-weight="bold" fill="#0000d6" transform="matrix(0.53 0 0 1.5127 406.74 2180.12)">C</text>
<text font-size="100" font-weight="bold" fill="#cc0000" transform="matrix(0.57 0 0 0.0287 405.45 2183.97)">U</text>
<text font-size="100" font-weight="bold" fill="#ffb300" transform="matrix(0.51 0 0 0.0325 406.8 2186.47)">G</text>
<text font-size="100" font-weight="bold" fill="#008000" transform="matrix(0.51 0 0 0.0363 407.62 2189)">A</text>
<text font-size="100" font-weight="bold" fill="#ffb300" transform="matrix(0.51 0 0 1.5127 444 2180.12)">G</text>
<text font-size="100" font-weight="bold" fill="#cc0000" transform="matrix(0.58 0 0 0.0287 442.64 2183.97)">U</text>
<text font-size="100" font-weight="bold" fill="#0000d6" transform="matrix(0.53 0 0 0.0325 443.93 2186.47)">C</text>
<text font-size="100" font-weight="bold" fill="#008000" transform="matrix(0.52 0 0 0.0363 444.82 2189)">A</text>
<text font-size="100" font-weight="bold" fill="#ffb300" transform="matrix(0.51 0 0 1.5000 480.4 2179.24)">G</text>
<text font-size="100" font-weight="bold" fill="#cc0000" transform="matrix(0.57 0 0 0.0358 479.05 2183.47)">U</text>
<text font-size="100" font-weight="bold" fill="#0000d6" transform="matrix(0.53 0 0 0.0353 480.34 2186.47)">C</text>
<text font-size="100" font-weight="bold" fill="#008000" transform="matrix(0.51 0 0 0.0363 481.22 2189)">A</text>
<text font-size="100" font-weight="bold" fill="#008000" transform="matrix(0.52 0 0 0.3561 517.5 2174.4)">A</text>
<text font-size="100" font-weight="bold" fill="#ffb300" transform="matrix(0.52 0 0 0.1243 516.68 2183.38)">G</text>
<text font-size="100" font-weight="bold" fill="#cc0000" transform="matrix(0.58 0 0 0.0774 515.31 2189.72)">U</text>
<line x1="333.5" y1="2036.7" x2="333.5" y2="2188.9" stroke="#333" stroke-width="1.4"/>
<line x1="326.5" y1="2036.7" x2="333.5" y2="2036.7" stroke="#333" stroke-width="1.4"/>
<line x1="326.5" y1="2113.5" x2="333.5" y2="2113.5" stroke="#333" stroke-width="1.4"/>
<line x1="326.5" y1="2188.9" x2="333.5" y2="2188.9" stroke="#333" stroke-width="1.4"/>
<text x="307.91" y="2051.8" font-size="32">2</text>
<text x="307.87" y="2122.9" font-size="32">1</text>
<text x="307.55" y="2189.4" font-size="32">0</text>
<text x="289.9" y="2121.62" font-size="37.6" transform="rotate(-90 289.9 2121.62)">bits</text>
<text x="138.72" y="2133.3" font-size="41">#3</text>
<text x="600.74" y="2133.3" font-size="41.5">1e-51</text>
<text font-size="100" font-weight="bold" fill="#008000" transform="matrix(0.51 0 0 0.7529 334.12 2344.4)">A</text>
<text font-size="100" font-weight="bold" fill="#0000d6" transform="matrix(0.53 0 0 0.2048 333.24 2359.6)">C</text>
<text font-size="100" font-weight="bold" fill="#cc0000" transform="matrix(0.57 0 0 0.0287 331.95 2361.97)">U</text>
<text font-size="100" font-weight="bold" fill="#ffb300" transform="matrix(0.52 0 0 1.2302 369.15 2349.5)">G</text>
<text font-size="100" font-weight="bold" fill="#0000d6" transform="matrix(0.54 0 0 0.1285 369.09 2360.57)">C</text>
<text font-size="100" font-weight="bold" fill="#cc0000" transform="matrix(0.59 0 0 0.0287 367.77 2362.97)">U</text>
<text font-size="100" font-weight="bold" fill="#ffb300" transform="matrix(0.52 0 0 0.9873 405.45 2346.14)">G</text>
<text font-size="100" font-weight="bold" fill="#cc0000" transform="matrix(0.59 0 0 0.1433 404.07 2357.86)">U</text>
<text font-size="100" font-weight="bold" fill="#0000d6" transform="matrix(0.54 0 0 0.0353 405.39 2360.97)">C</text>
<text font-size="100" font-weight="bold" fill="#008000" transform="matrix(0.53 0 0 0.0291 406.29 2363)">A</text>
<text font-size="100" font-weight="bold" fill="#008000" transform="matrix(0.52 0 0 1.5712 443.4 2355.3)">A</text>
<text font-size="100" font-weight="bold" fill="#cc0000" transform="matrix(0.58 0 0 0.0215 441.2 2356.98)">U</text>
<text font-size="100" font-weight="bold" fill="#ffb300" transform="matrix(0.52 0 0 0.0282 442.57 2358.97)">G</text>
<text font-size="100" font-weight="bold" fill="#0000d6" transform="matrix(0.54 0 0 0.0353 442.5 2361.47)">C</text>
<text font-size="100" font-weight="bold" fill="#0000d6" transform="matrix(0.54 0 0 1.5183 479.4 2353.82)">C</text>
<text font-size="100" font-weight="bold" fill="#cc0000" transform="matrix(0.58 0 0 0.0215 478.1 2356.98)">U</text>
<text font-size="100" font-weight="bold" fill="#ffb300" transform="matrix(0.52 0 0 0.0282 479.47 2358.97)">G</text>
<text font-size="100" font-weight="bold" fill="#008000" transform="matrix(0.52 0 0 0.0363 480.3 2361.5)">A</text>
<text font-size="100" font-weight="bold" fill="#008000" transform="matrix(0.51 0 0 1.5712 517.12 2355.3)">A</text>
<text font-size="100" font-weight="bold" fill="#cc0000" transform="matrix(0.57 0 0 0.0215 514.95 2356.98)">U</text>
<text font-size="100" font-weight="bold" fill="#ffb300" transform="matrix(0.51 0 0 0.0282 516.3 2358.97)">G</text>
<text font-size="100" font-weight="bold" fill="#0000d6" transform="matrix(0.53 0 0 0.0353 516.24 2361.47)">C</text>
<line x1="333.9" y1="2209.1" x2="333.9" y2="2362.5" stroke="#333" stroke-width="1.4"/>
<line x1="326.9" y1="2209.1" x2="333.9" y2="2209.1" stroke="#333" stroke-width="1.4"/>
<line x1="326.9" y1="2285.9" x2="333.9" y2="2285.9" stroke="#333" stroke-width="1.4"/>
<line x1="326.9" y1="2362.5" x2="333.9" y2="2362.5" stroke="#333" stroke-width="1.4"/>
<text x="307.91" y="2224.2" font-size="32">2</text>
<text x="307.87" y="2295.3" font-size="32">1</text>
<text x="307.55" y="2363" font-size="32">0</text>
<text x="289.9" y="2301.52" font-size="37.6" transform="rotate(-90 289.9 2301.52)">bits</text>
<text x="138.72" y="2297.2" font-size="41">#4</text>
<text x="600.74" y="2297.2" font-size="41.5">1e-49</text>
<text font-size="100" font-weight="bold" fill="#008000" transform="matrix(0.51 0 0 1.5625 333.22 2531.3)">A</text>
<text font-size="100" font-weight="bold" fill="#cc0000" transform="matrix(0.57 0 0 0.0215 331.05 2532.98)">U</text>
<text font-size="100" font-weight="bold" fill="#ffb300" transform="matrix(0.51 0 0 0.0282 332.4 2534.97)">G</text>
<text font-size="100" font-weight="bold" fill="#0000d6" transform="matrix(0.53 0 0 0.0353 332.34 2537.47)">C</text>
<text font-size="100" font-weight="bold" fill="#008000" transform="matrix(0.52 0 0 0.8183 369.51 2521.3)">A</text>
<text font-size="100" font-weight="bold" fill="#ffb300" transform="matrix(0.52 0 0 0.1921 368.68 2535.61)">G</text>
<text font-size="100" font-weight="bold" fill="#cc0000" transform="matrix(0.58 0 0 0.0287 367.32 2537.97)">U</text>
<text font-size="100" font-weight="bold" fill="#0000d6" transform="matrix(0.53 0 0 1.5183 405.41 2530.12)">C</text>
<text font-size="100" font-weight="bold" fill="#cc0000" transform="matrix(0.58 0 0 0.0244 404.11 2533.48)">U</text>
<text font-size="100" font-weight="bold" fill="#ffb300" transform="matrix(0.52 0 0 0.0282 405.48 2535.47)">G</text>
<text font-size="100" font-weight="bold" fill="#008000" transform="matrix(0.52 0 0 0.0363 406.3 2538)">A</text>
<text font-size="100" font-weight="bold" fill="#ffb300" transform="matrix(0.52 0 0 1.5056 442.15 2528.93)">G</text>
<text font-size="100" font-weight="bold" fill="#cc0000" transform="matrix(0.59 0 0 0.0344 440.76 2532.97)">U</text>
<text font-size="100" font-weight="bold" fill="#0000d6" transform="matrix(0.54 0 0 0.0353 442.08 2535.47)">C</text>
<text font-size="100" font-weight="bold" fill="#008000" transform="matrix(0.53 0 0 0.0363 442.99 2538)">A</text>
<text font-size="100" font-weight="bold" fill="#0000d6" transform="matrix(0.54 0 0 0.7740 478.78 2519.94)">C</text>
<text font-size="100" font-weight="bold" fill="#008000" transform="matrix(0.53 0 0 0.2035 479.69 2535.8)">A</text>
<text font-size="100" font-weight="bold" fill="#cc0000" transform="matrix(0.59 0 0 0.0287 477.46 2537.97)">U</text>
<text font-size="100" font-weight="bold" fill="#cc0000" transform="matrix(0.58 0 0 1.5407 514.4 2529.8)">U</text>
<text font-size="100" font-weight="bold" fill="#ffb300" transform="matrix(0.52 0 0 0.0282 515.77 2533.47)">G</text>
<text font-size="100" font-weight="bold" fill="#0000d6" transform="matrix(0.54 0 0 0.0282 515.7 2535.47)">C</text>
<text font-size="100" font-weight="bold" fill="#008000" transform="matrix(0.52 0 0 0.0363 516.6 2538)">A</text>
<line x1="332.6" y1="2386" x2="332.6" y2="2538.5" stroke="#333" stroke-width="1.4"/>
<line x1="325.6" y1="2386" x2="332.6" y2="2386" stroke="#333" stroke-width="1.4"/>
<line x1="325.6" y1="2462.3" x2="332.6" y2="2462.3" stroke="#333" stroke-width="1.4"/>
<line x1="325.6" y1="2538.5" x2="332.6" y2="2538.5" stroke="#333" stroke-width="1.4"/>
<text x="307.91" y="2401.1" font-size="32">2</text>
<text x="307.87" y="2471.7" font-size="32">1</text>
<text x="307.55" y="2539" font-size="32">0</text>
<text x="289.9" y="2477.52" font-size="37.6" transform="rotate(-90 289.9 2477.52)">bits</text>
<text x="138.72" y="2462" font-size="41">#5</text>
<text x="600.74" y="2462" font-size="41.5">1e-43</text>
<text x="1106.57" y="790.2" font-size="57" font-weight="bold">e</text>
<text x="1130.3" y="874.6" font-size="42" font-style="italic">motif-d2EGFP</text>
<text x="1130.3" y="956.7" font-size="42.1" font-style="italic">motif (Mut)-d2EGFP</text>
<rect x="1530" y="842.7" width="517.7" height="37.2" fill="#fff" stroke="#000" stroke-width="4"/>
<rect x="1649.8" y="844.7" width="395.9" height="33.2" fill="#00b050"/>
<line x1="1647.3" y1="840.7" x2="1647.3" y2="881.9" stroke="#000" stroke-width="5"/>
<text x="1573.87" y="874.3" font-size="36.5" font-weight="bold" fill="#000">C</text>
<text x="1775.22" y="874.3" font-size="38" font-style="italic" fill="#fff">d2EGFP</text>
<rect x="1530" y="925.7" width="517.7" height="37.1" fill="#fff" stroke="#000" stroke-width="4"/>
<rect x="1649.8" y="927.7" width="395.9" height="33.1" fill="#00b050"/>
<line x1="1647.3" y1="923.7" x2="1647.3" y2="964.8" stroke="#000" stroke-width="5"/>
<text x="1574.15" y="957.6" font-size="36.5" font-weight="bold" fill="#ff0000">A</text>
<text x="1775.22" y="957.6" font-size="38" font-style="italic" fill="#fff">d2EGFP</text>
<rect x="1110" y="1111.6" width="938" height="73.4" fill="url(#dots)"/>
<rect x="1110" y="1262.4" width="938" height="73.7" fill="url(#dots)"/>
<rect x="1110" y="1413.5" width="938" height="75.1" fill="url(#dots)"/>
<line x1="1110" y1="1009" x2="2048" y2="1009" stroke="#000" stroke-width="3.5"/>
<line x1="1110" y1="1109.6" x2="2048" y2="1109.6" stroke="#000" stroke-width="4.2"/>
<line x1="1110" y1="1490.2" x2="2048" y2="1490.2" stroke="#000" stroke-width="4.2"/>
<text x="1172.16" y="1076.6" font-size="38" font-weight="bold">Motif</text>
<text x="1451.56" y="1076.6" font-size="37" font-weight="bold">WT</text>
<text x="1770.82" y="1076.6" font-size="38.5" font-weight="bold">Mutated</text>
<text x="1192.06" y="1165" font-size="37.5" font-weight="bold">#1</text>
<text x="1479.4" y="1165" font-size="38.5" text-anchor="middle"><tspan>T</tspan><tspan font-weight="bold">C</tspan><tspan>A</tspan><tspan>T</tspan><tspan font-weight="bold">C</tspan><tspan font-weight="bold">C</tspan></text>
<text x="1844.7" y="1165" font-size="38.5" text-anchor="middle"><tspan>T</tspan><tspan font-weight="bold" fill="#ff0000">A</tspan><tspan>A</tspan><tspan>T</tspan><tspan font-weight="bold" fill="#ff0000">A</tspan><tspan font-weight="bold" fill="#ff0000">A</tspan></text>
<text x="1192.06" y="1240.2" font-size="37.5" font-weight="bold">#2</text>
<text x="1479.4" y="1240.2" font-size="37.4" text-anchor="middle"><tspan>A</tspan><tspan>G</tspan><tspan>T</tspan><tspan>A</tspan><tspan font-weight="bold">C</tspan><tspan>G</tspan></text>
<text x="1844.7" y="1240.2" font-size="37.4" text-anchor="middle"><tspan>A</tspan><tspan>G</tspan><tspan>T</tspan><tspan>A</tspan><tspan font-weight="bold" fill="#ff0000">A</tspan><tspan>G</tspan></text>
<text x="1192.06" y="1316.3" font-size="37.5" font-weight="bold">#3</text>
<text x="1479.4" y="1316.3" font-size="37.4" text-anchor="middle"><tspan>A</tspan><tspan>T</tspan><tspan font-weight="bold">C</tspan><tspan>G</tspan><tspan>G</tspan><tspan>A</tspan></text>
<text x="1844.7" y="1316.3" font-size="37.4" text-anchor="middle"><tspan>A</tspan><tspan>T</tspan><tspan font-weight="bold" fill="#ff0000">A</tspan><tspan>G</tspan><tspan>G</tspan><tspan>A</tspan></text>
<text x="1192.06" y="1391.2" font-size="37.5" font-weight="bold">#4</text>
<text x="1479.4" y="1391.2" font-size="37.4" text-anchor="middle"><tspan>A</tspan><tspan>G</tspan><tspan>G</tspan><tspan>A</tspan><tspan font-weight="bold">C</tspan><tspan>A</tspan></text>
<text x="1844.7" y="1391.2" font-size="37.4" text-anchor="middle"><tspan>A</tspan><tspan>G</tspan><tspan>G</tspan><tspan>A</tspan><tspan font-weight="bold" fill="#ff0000">A</tspan><tspan>A</tspan></text>
<text x="1192.06" y="1467.9" font-size="37.5" font-weight="bold">#5</text>
<text x="1479.4" y="1467.9" font-size="37.4" text-anchor="middle"><tspan>G</tspan><tspan font-weight="bold">C</tspan><tspan>G</tspan><tspan>G</tspan><tspan font-weight="bold">C</tspan><tspan>T</tspan></text>
<text x="1844.7" y="1467.9" font-size="37.4" text-anchor="middle"><tspan>G</tspan><tspan font-weight="bold" fill="#ff0000">A</tspan><tspan>G</tspan><tspan>G</tspan><tspan font-weight="bold" fill="#ff0000">A</tspan><tspan>T</tspan></text>
<text x="893.03" y="1643.6" font-size="57" font-weight="bold">f</text>
<rect x="1389.45" y="1704.05" width="22.8" height="22.1" fill="#a7a6ac" stroke="#111" stroke-width="2.1"/>
<text x="1432.42" y="1729.6" font-size="41.8">Veh.</text>
<rect x="1536.65" y="1704.05" width="22.3" height="22.1" fill="#ff8000" stroke="#111" stroke-width="2.1"/>
<text x="1583.93" y="1729.6" font-size="42.2">α-Amanitin</text>
<line x1="1050.9" y1="2193.4" x2="1067.6" y2="2193.4" stroke="#000" stroke-width="2.5"/>
<text x="992.43" y="2203.5" font-size="37.8">0.0</text>
<line x1="1050.9" y1="2095.7" x2="1067.6" y2="2095.7" stroke="#000" stroke-width="2.5"/>
<text x="992.54" y="2105.8" font-size="37.8">0.5</text>
<line x1="1050.9" y1="1998" x2="1067.6" y2="1998" stroke="#000" stroke-width="2.5"/>
<text x="992.43" y="2008.1" font-size="37.8">1.0</text>
<line x1="1050.9" y1="1900.3" x2="1067.6" y2="1900.3" stroke="#000" stroke-width="2.5"/>
<text x="992.54" y="1910.4" font-size="37.8">1.5</text>
<line x1="1050.9" y1="1802.6" x2="1067.6" y2="1802.6" stroke="#000" stroke-width="2.5"/>
<text x="992.43" y="1812.7" font-size="37.8">2.0</text>
<line x1="1067.6" y1="1801.35" x2="1067.6" y2="2193.4" stroke="#000" stroke-width="2.5"/>
<text x="963" y="2117.66" font-size="42.2" transform="rotate(-90 963 2117.66)">Relative MFI</text>
<rect x="1076.25" y="1998.75" width="35.1" height="193.4" fill="#a7a6ac" stroke="#000" stroke-width="2.5"/>
<rect x="1120.35" y="2140.45" width="33.8" height="51.7" fill="#ff8000" stroke="#000" stroke-width="2.5"/>
<line x1="1093.8" y1="1980.3" x2="1093.8" y2="2015.7" stroke="#000" stroke-width="1.3"/>
<line x1="1085.5" y1="1980.3" x2="1102.1" y2="1980.3" stroke="#000" stroke-width="1.3"/>
<line x1="1085.5" y1="2015.7" x2="1102.1" y2="2015.7" stroke="#000" stroke-width="1.3"/>
<circle cx="1093.9" cy="1968.7" r="5.6" fill="none" stroke="#000" stroke-width="1.3"/>
<circle cx="1093.9" cy="1995.8" r="5.6" fill="none" stroke="#000" stroke-width="1.3"/>
<circle cx="1093.9" cy="2029" r="5.6" fill="none" stroke="#000" stroke-width="1.3"/>
<line x1="1137.25" y1="2138" x2="1137.25" y2="2142" stroke="#000" stroke-width="1.3"/>
<line x1="1128.95" y1="2138" x2="1145.55" y2="2138" stroke="#000" stroke-width="1.3"/>
<line x1="1128.95" y1="2142" x2="1145.55" y2="2142" stroke="#000" stroke-width="1.3"/>
<circle cx="1128.4" cy="2137.1" r="5.6" fill="none" stroke="#000" stroke-width="1.3"/>
<circle cx="1137.5" cy="2142.9" r="5.6" fill="none" stroke="#000" stroke-width="1.3"/>
<circle cx="1146.8" cy="2140.3" r="5.6" fill="none" stroke="#000" stroke-width="1.3"/>
<rect x="1172.43" y="1998.75" width="35.1" height="193.4" fill="#a7a6ac" stroke="#000" stroke-width="2.5"/>
<rect x="1216.53" y="2110.75" width="33.8" height="81.4" fill="#ff8000" stroke="#000" stroke-width="2.5"/>
<line x1="1189.98" y1="1990.9" x2="1189.98" y2="2005" stroke="#000" stroke-width="1.3"/>
<line x1="1181.68" y1="1990.9" x2="1198.28" y2="1990.9" stroke="#000" stroke-width="1.3"/>
<line x1="1181.68" y1="2005" x2="1198.28" y2="2005" stroke="#000" stroke-width="1.3"/>
<circle cx="1189.8" cy="1985.8" r="5.6" fill="none" stroke="#000" stroke-width="1.3"/>
<circle cx="1198.9" cy="1996.3" r="5.6" fill="none" stroke="#000" stroke-width="1.3"/>
<circle cx="1180.8" cy="2011.8" r="5.6" fill="none" stroke="#000" stroke-width="1.3"/>
<line x1="1233.43" y1="2067.1" x2="1233.43" y2="2152.1" stroke="#000" stroke-width="1.3"/>
<line x1="1225.13" y1="2067.1" x2="1241.73" y2="2067.1" stroke="#000" stroke-width="1.3"/>
<line x1="1225.13" y1="2152.1" x2="1241.73" y2="2152.1" stroke="#000" stroke-width="1.3"/>
<circle cx="1233.4" cy="2050.8" r="5.6" fill="none" stroke="#000" stroke-width="1.3"/>
<circle cx="1233.4" cy="2085.9" r="5.6" fill="none" stroke="#000" stroke-width="1.3"/>
<circle cx="1233.4" cy="2192.1" r="5.6" fill="none" stroke="#000" stroke-width="1.3"/>
<rect x="1268.61" y="1998.75" width="35.1" height="193.4" fill="#a7a6ac" stroke="#000" stroke-width="2.5"/>
<rect x="1312.71" y="1976.65" width="33.8" height="215.5" fill="#ff8000" stroke="#000" stroke-width="2.5"/>
<line x1="1286.16" y1="1969.6" x2="1286.16" y2="2027.7" stroke="#000" stroke-width="1.3"/>
<line x1="1277.86" y1="1969.6" x2="1294.46" y2="1969.6" stroke="#000" stroke-width="1.3"/>
<line x1="1277.86" y1="2027.7" x2="1294.46" y2="2027.7" stroke="#000" stroke-width="1.3"/>
<circle cx="1286.1" cy="1958.7" r="5.6" fill="none" stroke="#000" stroke-width="1.3"/>
<circle cx="1286.1" cy="1982.3" r="5.6" fill="none" stroke="#000" stroke-width="1.3"/>
<circle cx="1286.1" cy="2054.4" r="5.6" fill="none" stroke="#000" stroke-width="1.3"/>
<line x1="1329.61" y1="1960" x2="1329.61" y2="1991.8" stroke="#000" stroke-width="1.3"/>
<line x1="1321.31" y1="1960" x2="1337.91" y2="1960" stroke="#000" stroke-width="1.3"/>
<line x1="1321.31" y1="1991.8" x2="1337.91" y2="1991.8" stroke="#000" stroke-width="1.3"/>
<circle cx="1320.6" cy="1958.7" r="5.6" fill="none" stroke="#000" stroke-width="1.3"/>
<circle cx="1338.4" cy="1961.3" r="5.6" fill="none" stroke="#000" stroke-width="1.3"/>
<circle cx="1329.7" cy="2007.8" r="5.6" fill="none" stroke="#000" stroke-width="1.3"/>
<rect x="1364.79" y="1998.75" width="35.1" height="193.4" fill="#a7a6ac" stroke="#000" stroke-width="2.5"/>
<rect x="1408.89" y="2128.15" width="33.8" height="64" fill="#ff8000" stroke="#000" stroke-width="2.5"/>
<line x1="1382.34" y1="1931" x2="1382.34" y2="2064.2" stroke="#000" stroke-width="1.3"/>
<line x1="1374.04" y1="1931" x2="1390.64" y2="1931" stroke="#000" stroke-width="1.3"/>
<line x1="1374.04" y1="2064.2" x2="1390.64" y2="2064.2" stroke="#000" stroke-width="1.3"/>
<circle cx="1382.2" cy="1874.2" r="5.6" fill="none" stroke="#000" stroke-width="1.3"/>
<circle cx="1382.2" cy="2015.6" r="5.6" fill="none" stroke="#000" stroke-width="1.3"/>
<circle cx="1382.2" cy="2103.5" r="5.6" fill="none" stroke="#000" stroke-width="1.3"/>
<line x1="1425.79" y1="2118.2" x2="1425.79" y2="2136" stroke="#000" stroke-width="1.3"/>
<line x1="1417.49" y1="2118.2" x2="1434.09" y2="2118.2" stroke="#000" stroke-width="1.3"/>
<line x1="1417.49" y1="2136" x2="1434.09" y2="2136" stroke="#000" stroke-width="1.3"/>
<circle cx="1416.5" cy="2114.8" r="5.6" fill="none" stroke="#000" stroke-width="1.3"/>
<circle cx="1434.4" cy="2120.5" r="5.6" fill="none" stroke="#000" stroke-width="1.3"/>
<circle cx="1425.6" cy="2144.4" r="5.6" fill="none" stroke="#000" stroke-width="1.3"/>
<rect x="1460.97" y="1998.05" width="35.1" height="194.1" fill="#a7a6ac" stroke="#000" stroke-width="2.5"/>
<rect x="1505.07" y="2096.85" width="33.8" height="95.3" fill="#ff8000" stroke="#000" stroke-width="2.5"/>
<line x1="1478.52" y1="1933.2" x2="1478.52" y2="2061.5" stroke="#000" stroke-width="1.3"/>
<line x1="1470.22" y1="1933.2" x2="1486.82" y2="1933.2" stroke="#000" stroke-width="1.3"/>
<line x1="1470.22" y1="2061.5" x2="1486.82" y2="2061.5" stroke="#000" stroke-width="1.3"/>
<circle cx="1478.3" cy="1870.8" r="5.6" fill="none" stroke="#000" stroke-width="1.3"/>
<circle cx="1478.3" cy="2043.3" r="5.6" fill="none" stroke="#000" stroke-width="1.3"/>
<circle cx="1478.3" cy="2078.5" r="5.6" fill="none" stroke="#000" stroke-width="1.3"/>
<line x1="1521.97" y1="2070.6" x2="1521.97" y2="2121" stroke="#000" stroke-width="1.3"/>
<line x1="1513.67" y1="2070.6" x2="1530.27" y2="2070.6" stroke="#000" stroke-width="1.3"/>
<line x1="1513.67" y1="2121" x2="1530.27" y2="2121" stroke="#000" stroke-width="1.3"/>
<circle cx="1521.9" cy="2054.7" r="5.6" fill="none" stroke="#000" stroke-width="1.3"/>
<circle cx="1521.9" cy="2089.2" r="5.6" fill="none" stroke="#000" stroke-width="1.3"/>
<circle cx="1521.9" cy="2142.8" r="5.6" fill="none" stroke="#000" stroke-width="1.3"/>
<rect x="1557.15" y="1998.75" width="35.1" height="193.4" fill="#a7a6ac" stroke="#000" stroke-width="2.5"/>
<rect x="1601.25" y="2131.95" width="33.8" height="60.2" fill="#ff8000" stroke="#000" stroke-width="2.5"/>
<line x1="1574.7" y1="1951" x2="1574.7" y2="2045.2" stroke="#000" stroke-width="1.3"/>
<line x1="1566.4" y1="1951" x2="1583" y2="1951" stroke="#000" stroke-width="1.3"/>
<line x1="1566.4" y1="2045.2" x2="1583" y2="2045.2" stroke="#000" stroke-width="1.3"/>
<circle cx="1574.3" cy="1904.2" r="5.6" fill="none" stroke="#000" stroke-width="1.3"/>
<circle cx="1583.4" cy="2041.1" r="5.6" fill="none" stroke="#000" stroke-width="1.3"/>
<circle cx="1565" cy="2049" r="5.6" fill="none" stroke="#000" stroke-width="1.3"/>
<line x1="1618.15" y1="2111" x2="1618.15" y2="2150.5" stroke="#000" stroke-width="1.3"/>
<line x1="1609.85" y1="2111" x2="1626.45" y2="2111" stroke="#000" stroke-width="1.3"/>
<line x1="1609.85" y1="2150.5" x2="1626.45" y2="2150.5" stroke="#000" stroke-width="1.3"/>
<circle cx="1608.8" cy="2108" r="5.6" fill="none" stroke="#000" stroke-width="1.3"/>
<circle cx="1627" cy="2113.7" r="5.6" fill="none" stroke="#000" stroke-width="1.3"/>
<circle cx="1617.9" cy="2170.5" r="5.6" fill="none" stroke="#000" stroke-width="1.3"/>
<rect x="1653.33" y="1998.75" width="35.1" height="193.4" fill="#a7a6ac" stroke="#000" stroke-width="2.5"/>
<rect x="1697.43" y="2073.45" width="33.8" height="118.7" fill="#ff8000" stroke="#000" stroke-width="2.5"/>
<line x1="1670.88" y1="1947.5" x2="1670.88" y2="2048.6" stroke="#000" stroke-width="1.3"/>
<line x1="1662.58" y1="1947.5" x2="1679.18" y2="1947.5" stroke="#000" stroke-width="1.3"/>
<line x1="1662.58" y1="2048.6" x2="1679.18" y2="2048.6" stroke="#000" stroke-width="1.3"/>
<circle cx="1670.5" cy="1935.5" r="5.6" fill="none" stroke="#000" stroke-width="1.3"/>
<circle cx="1670.5" cy="1960.9" r="5.6" fill="none" stroke="#000" stroke-width="1.3"/>
<circle cx="1670.5" cy="2097.8" r="5.6" fill="none" stroke="#000" stroke-width="1.3"/>
<line x1="1714.33" y1="2063.8" x2="1714.33" y2="2080.1" stroke="#000" stroke-width="1.3"/>
<line x1="1706.03" y1="2063.8" x2="1722.63" y2="2063.8" stroke="#000" stroke-width="1.3"/>
<line x1="1706.03" y1="2080.1" x2="1722.63" y2="2080.1" stroke="#000" stroke-width="1.3"/>
<circle cx="1704.8" cy="2062.6" r="5.6" fill="none" stroke="#000" stroke-width="1.3"/>
<circle cx="1722.3" cy="2066.5" r="5.6" fill="none" stroke="#000" stroke-width="1.3"/>
<circle cx="1713.9" cy="2087.6" r="5.6" fill="none" stroke="#000" stroke-width="1.3"/>
<rect x="1749.51" y="1998.75" width="35.1" height="193.4" fill="#a7a6ac" stroke="#000" stroke-width="2.5"/>
<rect x="1793.61" y="2142.85" width="33.8" height="49.3" fill="#ff8000" stroke="#000" stroke-width="2.5"/>
<line x1="1767.06" y1="1982.5" x2="1767.06" y2="2013" stroke="#000" stroke-width="1.3"/>
<line x1="1758.76" y1="1982.5" x2="1775.36" y2="1982.5" stroke="#000" stroke-width="1.3"/>
<line x1="1758.76" y1="2013" x2="1775.36" y2="2013" stroke="#000" stroke-width="1.3"/>
<circle cx="1766.6" cy="1966.8" r="5.6" fill="none" stroke="#000" stroke-width="1.3"/>
<circle cx="1757.6" cy="2015.4" r="5.6" fill="none" stroke="#000" stroke-width="1.3"/>
<circle cx="1775.7" cy="2012" r="5.6" fill="none" stroke="#000" stroke-width="1.3"/>
<line x1="1810.51" y1="2139.4" x2="1810.51" y2="2145.5" stroke="#000" stroke-width="1.3"/>
<line x1="1802.21" y1="2139.4" x2="1818.81" y2="2139.4" stroke="#000" stroke-width="1.3"/>
<line x1="1802.21" y1="2145.5" x2="1818.81" y2="2145.5" stroke="#000" stroke-width="1.3"/>
<circle cx="1800.7" cy="2134.8" r="5.6" fill="none" stroke="#000" stroke-width="1.3"/>
<circle cx="1809.8" cy="2146.6" r="5.6" fill="none" stroke="#000" stroke-width="1.3"/>
<circle cx="1819.5" cy="2144.8" r="5.6" fill="none" stroke="#000" stroke-width="1.3"/>
<rect x="1845.69" y="1998.75" width="35.1" height="193.4" fill="#a7a6ac" stroke="#000" stroke-width="2.5"/>
<rect x="1889.79" y="2018.95" width="33.8" height="173.2" fill="#ff8000" stroke="#000" stroke-width="2.5"/>
<line x1="1863.24" y1="1975.7" x2="1863.24" y2="2020.2" stroke="#000" stroke-width="1.3"/>
<line x1="1854.94" y1="1975.7" x2="1871.54" y2="1975.7" stroke="#000" stroke-width="1.3"/>
<line x1="1854.94" y1="2020.2" x2="1871.54" y2="2020.2" stroke="#000" stroke-width="1.3"/>
<circle cx="1862.7" cy="1962.7" r="5.6" fill="none" stroke="#000" stroke-width="1.3"/>
<circle cx="1862.7" cy="1992.3" r="5.6" fill="none" stroke="#000" stroke-width="1.3"/>
<circle cx="1862.7" cy="2038.8" r="5.6" fill="none" stroke="#000" stroke-width="1.3"/>
<line x1="1906.69" y1="1993.4" x2="1906.69" y2="2042.2" stroke="#000" stroke-width="1.3"/>
<line x1="1898.39" y1="1993.4" x2="1914.99" y2="1993.4" stroke="#000" stroke-width="1.3"/>
<line x1="1898.39" y1="2042.2" x2="1914.99" y2="2042.2" stroke="#000" stroke-width="1.3"/>
<circle cx="1905.8" cy="1978.2" r="5.6" fill="none" stroke="#000" stroke-width="1.3"/>
<circle cx="1905.8" cy="2011.6" r="5.6" fill="none" stroke="#000" stroke-width="1.3"/>
<circle cx="1905.8" cy="2062.6" r="5.6" fill="none" stroke="#000" stroke-width="1.3"/>
<rect x="1941.87" y="1998.75" width="35.1" height="193.4" fill="#a7a6ac" stroke="#000" stroke-width="2.5"/>
<rect x="1985.97" y="2095.65" width="33.8" height="96.5" fill="#ff8000" stroke="#000" stroke-width="2.5"/>
<line x1="1959.42" y1="1969.6" x2="1959.42" y2="2025.9" stroke="#000" stroke-width="1.3"/>
<line x1="1951.12" y1="1969.6" x2="1967.72" y2="1969.6" stroke="#000" stroke-width="1.3"/>
<line x1="1951.12" y1="2025.9" x2="1967.72" y2="2025.9" stroke="#000" stroke-width="1.3"/>
<circle cx="1958.5" cy="1954.8" r="5.6" fill="none" stroke="#000" stroke-width="1.3"/>
<circle cx="1958.5" cy="1988.2" r="5.6" fill="none" stroke="#000" stroke-width="1.3"/>
<circle cx="1958.5" cy="2051.3" r="5.6" fill="none" stroke="#000" stroke-width="1.3"/>
<line x1="2002.87" y1="2086.5" x2="2002.87" y2="2102.4" stroke="#000" stroke-width="1.3"/>
<line x1="1994.57" y1="2086.5" x2="2011.17" y2="2086.5" stroke="#000" stroke-width="1.3"/>
<line x1="1994.57" y1="2102.4" x2="2011.17" y2="2102.4" stroke="#000" stroke-width="1.3"/>
<circle cx="1993.7" cy="2086" r="5.6" fill="none" stroke="#000" stroke-width="1.3"/>
<circle cx="2011.1" cy="2086" r="5.6" fill="none" stroke="#000" stroke-width="1.3"/>
<circle cx="2002.1" cy="2111.4" r="5.6" fill="none" stroke="#000" stroke-width="1.3"/>
<rect x="2038.05" y="1998.75" width="35.1" height="193.4" fill="#a7a6ac" stroke="#000" stroke-width="2.5"/>
<rect x="2082.15" y="2056.35" width="33.8" height="135.8" fill="#ff8000" stroke="#000" stroke-width="2.5"/>
<line x1="2055.6" y1="1988.2" x2="2055.6" y2="2008.6" stroke="#000" stroke-width="1.3"/>
<line x1="2047.3" y1="1988.2" x2="2063.9" y2="1988.2" stroke="#000" stroke-width="1.3"/>
<line x1="2047.3" y1="2008.6" x2="2063.9" y2="2008.6" stroke="#000" stroke-width="1.3"/>
<circle cx="2045.9" cy="1982" r="5.6" fill="none" stroke="#000" stroke-width="1.3"/>
<circle cx="2063.6" cy="1996.1" r="5.6" fill="none" stroke="#000" stroke-width="1.3"/>
<circle cx="2054.5" cy="2017.2" r="5.6" fill="none" stroke="#000" stroke-width="1.3"/>
<line x1="2099.05" y1="2052" x2="2099.05" y2="2057.4" stroke="#000" stroke-width="1.3"/>
<line x1="2090.75" y1="2052" x2="2107.35" y2="2052" stroke="#000" stroke-width="1.3"/>
<line x1="2090.75" y1="2057.4" x2="2107.35" y2="2057.4" stroke="#000" stroke-width="1.3"/>
<circle cx="2089" cy="2050.6" r="5.6" fill="none" stroke="#000" stroke-width="1.3"/>
<circle cx="2107.2" cy="2052.4" r="5.6" fill="none" stroke="#000" stroke-width="1.3"/>
<circle cx="2098.1" cy="2061.5" r="5.6" fill="none" stroke="#000" stroke-width="1.3"/>
<line x1="1050.9" y1="2193.4" x2="2134.4" y2="2193.4" stroke="#000" stroke-width="2.5"/>
<polyline points="1231.2,2030.8 1231.2,1843.3 1323.2,1843.3 1323.2,1870.8" fill="none" stroke="#c0c0c0" stroke-width="2.3" stroke-linejoin="miter"/>
<text x="1247.73" y="1823.7" font-size="32.6">0.04</text>
<polyline points="1421.1,2030.8 1421.1,1843.3 1513,1843.3 1513,1870.8" fill="none" stroke="#c0c0c0" stroke-width="2.3" stroke-linejoin="miter"/>
<text x="1443.89" y="1828.1" font-size="39.3">ns</text>
<polyline points="1615.6,2030.8 1615.6,1843.3 1708,1843.3 1708,1870.8" fill="none" stroke="#c0c0c0" stroke-width="2.3" stroke-linejoin="miter"/>
<text x="1643.69" y="1828.1" font-size="39.3">ns</text>
<polyline points="1810.5,2030.8 1810.5,1843.3 1902.4,1843.3 1902.4,1870.8" fill="none" stroke="#c0c0c0" stroke-width="2.3" stroke-linejoin="miter"/>
<text x="1816.38" y="1823.6" font-size="33.7">0.007</text>
<polyline points="2004.6,2030.8 2004.6,1843.3 2096.5,1843.3 2096.5,1870.8" fill="none" stroke="#c0c0c0" stroke-width="2.3" stroke-linejoin="miter"/>
<text x="2005.98" y="1823.6" font-size="33.7">0.013</text>
<line x1="1078.1" y1="2219.2" x2="1149" y2="2219.2" stroke="#000" stroke-width="2.9"/>
<line x1="1175.44" y1="2219.2" x2="1246.34" y2="2219.2" stroke="#000" stroke-width="2.9"/>
<line x1="1272.78" y1="2219.2" x2="1343.68" y2="2219.2" stroke="#000" stroke-width="2.9"/>
<line x1="1370.12" y1="2219.2" x2="1441.02" y2="2219.2" stroke="#000" stroke-width="2.9"/>
<line x1="1467.46" y1="2219.2" x2="1538.36" y2="2219.2" stroke="#000" stroke-width="2.9"/>
<line x1="1564.8" y1="2219.2" x2="1635.7" y2="2219.2" stroke="#000" stroke-width="2.9"/>
<line x1="1662.14" y1="2219.2" x2="1733.04" y2="2219.2" stroke="#000" stroke-width="2.9"/>
<line x1="1759.48" y1="2219.2" x2="1830.38" y2="2219.2" stroke="#000" stroke-width="2.9"/>
<line x1="1856.82" y1="2219.2" x2="1927.72" y2="2219.2" stroke="#000" stroke-width="2.9"/>
<line x1="1954.16" y1="2219.2" x2="2025.06" y2="2219.2" stroke="#000" stroke-width="2.9"/>
<line x1="2051.5" y1="2219.2" x2="2122.4" y2="2219.2" stroke="#000" stroke-width="2.9"/>
<text x="1128.67" y="2257.86" font-size="41" text-anchor="end" transform="rotate(-51 1128.67 2257.86)">EV</text>
<text x="1227.26" y="2257.31" font-size="41" text-anchor="end" transform="rotate(-51 1227.26 2257.31)">WT</text>
<text x="1325.15" y="2259.58" font-size="41" text-anchor="end" transform="rotate(-51 1325.15 2259.58)">Mut</text>
<text x="1422.26" y="2257.31" font-size="41" text-anchor="end" transform="rotate(-51 1422.26 2257.31)">WT</text>
<text x="1520.15" y="2259.58" font-size="41" text-anchor="end" transform="rotate(-51 1520.15 2259.58)">Mut</text>
<text x="1617.26" y="2257.31" font-size="41" text-anchor="end" transform="rotate(-51 1617.26 2257.31)">WT</text>
<text x="1715.15" y="2259.58" font-size="41" text-anchor="end" transform="rotate(-51 1715.15 2259.58)">Mut</text>
<text x="1812.26" y="2257.31" font-size="41" text-anchor="end" transform="rotate(-51 1812.26 2257.31)">WT</text>
<text x="1910.15" y="2259.58" font-size="41" text-anchor="end" transform="rotate(-51 1910.15 2259.58)">Mut</text>
<text x="2007.26" y="2257.31" font-size="41" text-anchor="end" transform="rotate(-51 2007.26 2257.31)">WT</text>
<text x="2105.15" y="2259.58" font-size="41" text-anchor="end" transform="rotate(-51 2105.15 2259.58)">Mut</text>
<path d="M1184.4 2324.9 V2333.7 Q1184.4 2337.2 1187.9 2337.2 H1281.1 Q1284.6 2337.2 1284.6 2333.7 V2324.9" fill="none" stroke="#000" stroke-width="2.9"/>
<path d="M1231.9 2336 L1237.1 2336 L1235.7 2350.4 L1233.3 2350.4 Z" fill="#000"/>
<text x="1211.54" y="2407.8" font-size="40">#1</text>
<path d="M1381.1 2324.9 V2333.7 Q1381.1 2337.2 1384.6 2337.2 H1478.8 Q1482.3 2337.2 1482.3 2333.7 V2324.9" fill="none" stroke="#000" stroke-width="2.9"/>
<path d="M1429.1 2336 L1434.3 2336 L1432.9 2350.4 L1430.5 2350.4 Z" fill="#000"/>
<text x="1413.97" y="2407.8" font-size="40">#2</text>
<path d="M1577.9 2324.9 V2333.7 Q1577.9 2337.2 1581.4 2337.2 H1674.8 Q1678.3 2337.2 1678.3 2333.7 V2324.9" fill="none" stroke="#000" stroke-width="2.9"/>
<path d="M1625.5 2336 L1630.7 2336 L1629.3 2350.4 L1626.9 2350.4 Z" fill="#000"/>
<text x="1614.84" y="2407.8" font-size="40">#3</text>
<path d="M1774.6 2324.9 V2333.7 Q1774.6 2337.2 1778.1 2337.2 H1872.3 Q1875.8 2337.2 1875.8 2333.7 V2324.9" fill="none" stroke="#000" stroke-width="2.9"/>
<path d="M1822.6 2336 L1827.8 2336 L1826.4 2350.4 L1824 2350.4 Z" fill="#000"/>
<text x="1802.05" y="2407.8" font-size="40">#4</text>
<path d="M1971.3 2324.9 V2333.7 Q1971.3 2337.2 1974.8 2337.2 H2069 Q2072.5 2337.2 2072.5 2333.7 V2324.9" fill="none" stroke="#000" stroke-width="2.9"/>
<path d="M2019.3 2336 L2024.5 2336 L2023.1 2350.4 L2020.7 2350.4 Z" fill="#000"/>
<text x="2002.61" y="2407.8" font-size="40">#5</text>
</svg></body></html>
